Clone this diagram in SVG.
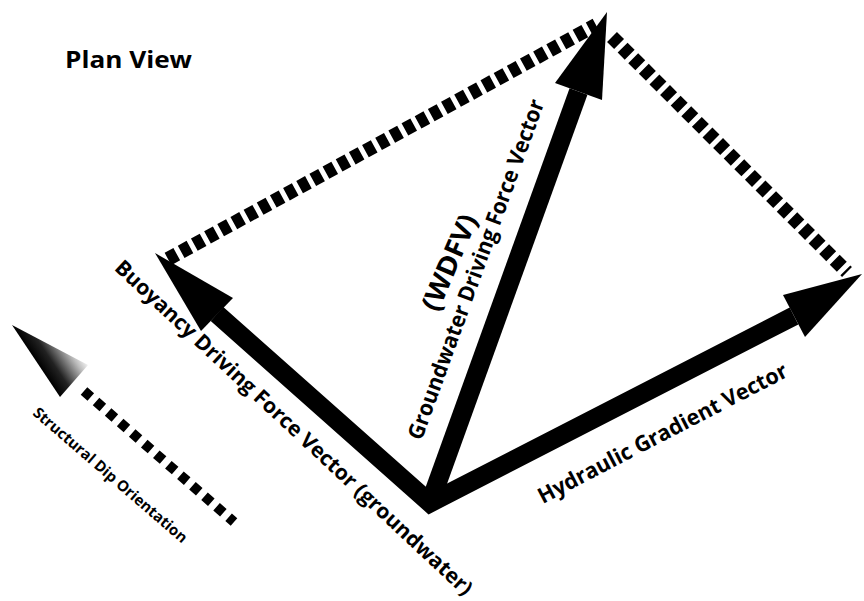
<svg xmlns="http://www.w3.org/2000/svg" width="864" height="601" viewBox="0 0 864 601">
<defs>
<linearGradient id="dipGrad" gradientUnits="userSpaceOnUse" x1="36" y1="361" x2="72" y2="337">
<stop offset="0" stop-color="#000"/>
<stop offset="0.3" stop-color="#222"/>
<stop offset="0.75" stop-color="#bbb"/>
<stop offset="1" stop-color="#fff"/>
</linearGradient>
</defs>
<style>
.lbl{font-family:"Open Sans","Liberation Sans",sans-serif;font-weight:bold;fill:#000}
.shaft{stroke:#000;stroke-width:19;fill:none;stroke-linejoin:miter}
.dash{stroke:#000;stroke-width:14;stroke-dasharray:10 5;fill:none}
.dipdash{stroke:#000;stroke-width:10;stroke-dasharray:9 7;fill:none}
.head{fill:#000}
</style>
<rect width="864" height="601" fill="#fff"/>

<g id="title">
<text class="lbl" x="65" y="68" font-size="24" textLength="127" lengthAdjust="spacingAndGlyphs">Plan View</text>
</g>

<g id="connectors">
<line class="dash" x1="168" y1="259" x2="596" y2="25"/>
<line class="dash" x1="612" y1="37" x2="847" y2="272"/>
</g>

<g id="vector-base">
<path class="shaft" d="M217,314 L430,503 L794,316"/>
</g>

<g id="buoyancy-vector">
<polygon class="head" points="155,253 233,298 201,331"/>
<text class="lbl" font-size="21" text-anchor="middle" textLength="480" lengthAdjust="spacingAndGlyphs" transform="translate(289,433) rotate(43)">Buoyancy Driving Force Vector (groundwater)</text>
</g>

<g id="groundwater-vector">
<line class="shaft" x1="430" y1="503" x2="578.5" y2="91.5"/>
<polygon class="head" points="607,12 555,83 602,100"/>
<text class="lbl" font-size="22" text-anchor="middle" textLength="360" lengthAdjust="spacingAndGlyphs" transform="translate(483,272) rotate(-70)">Groundwater Driving Force Vector</text>
<text class="lbl" font-size="27" text-anchor="middle" textLength="102" lengthAdjust="spacingAndGlyphs" transform="translate(458,266) rotate(-67)">(WDFV)</text>
</g>

<g id="hydraulic-vector">
<polygon class="head" points="862,274 783,295 805,337"/>
<text class="lbl" font-size="22" text-anchor="middle" textLength="278" lengthAdjust="spacingAndGlyphs" transform="translate(666,440) rotate(-27.5)">Hydraulic Gradient Vector</text>
</g>

<g id="structural-dip">
<polygon points="12,325 60,397 88,365" fill="url(#dipGrad)"/>
<line class="dipdash" x1="84" y1="391" x2="234" y2="522"/>
<text class="lbl" font-size="15" text-anchor="middle" textLength="198" lengthAdjust="spacingAndGlyphs" transform="translate(107,479) rotate(40.8)">Structural Dip Orientation</text>
</g>
</svg>
